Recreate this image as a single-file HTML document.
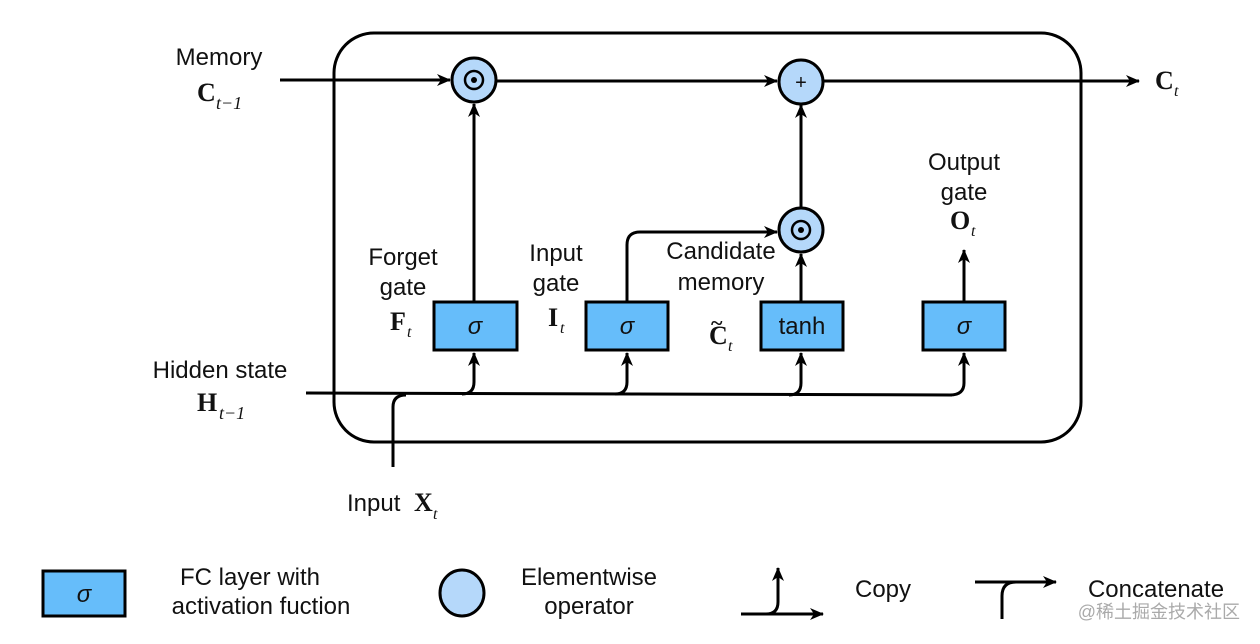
<!DOCTYPE html>
<html><head><meta charset="utf-8"><style>
html,body{margin:0;padding:0;background:#fff;}
svg{display:block;}
text{font-family:"Liberation Sans",sans-serif;fill:#111;}
.s{font-family:"Liberation Serif",serif;font-weight:bold;}
.i{font-family:"Liberation Serif",serif;font-style:italic;font-weight:normal;}
.g{font-family:"Liberation Sans",sans-serif;font-style:italic;}
</style></head><body>
<svg width="1260" height="644" viewBox="0 0 1260 644" xmlns="http://www.w3.org/2000/svg">
<defs>
<marker id="a" viewBox="0 0 14 12" refX="13" refY="6" markerWidth="14" markerHeight="12" markerUnits="userSpaceOnUse" orient="auto">
<path d="M0,0 L14,6 L0,12 L4,6 Z" fill="#000"/></marker>
</defs>
<g fill="none" stroke="#000" stroke-width="3">
<rect x="334" y="33" width="747" height="409" rx="40"/>
<path d="M280,80 H450" marker-end="url(#a)"/>
<path d="M497,81 H777" marker-end="url(#a)"/>
<path d="M824,81 H1139" marker-end="url(#a)"/>
<path d="M474,302 V104" marker-end="url(#a)"/>
<path d="M627,302 V245 Q627,232 640,232 H777" marker-end="url(#a)"/>
<path d="M801,302 V254" marker-end="url(#a)"/>
<path d="M801,207 V105" marker-end="url(#a)"/>
<path d="M964,302 V250" marker-end="url(#a)"/>
<path d="M306,393 L952,395"/>
<path d="M462,394 Q474,394 474,382 V353" marker-end="url(#a)"/>
<path d="M615,394 Q627,394 627,382 V353" marker-end="url(#a)"/>
<path d="M789,395 Q801,395 801,383 V353" marker-end="url(#a)"/>
<path d="M950,395 Q964,395 964,383 V353" marker-end="url(#a)"/>
<path d="M393,467 V407 Q393,395 406,395"/>
</g>
<g stroke="#000" stroke-width="3" fill="#b5d8fa">
<circle cx="474" cy="80" r="22"/>
<circle cx="801" cy="82" r="22"/>
<circle cx="801" cy="230" r="22"/>
<ellipse cx="462" cy="593" rx="22" ry="23"/>
</g>
<g fill="none" stroke="#000" stroke-width="2.5">
<circle cx="474" cy="80" r="9"/><circle cx="801" cy="230" r="9"/>
</g>
<circle cx="474" cy="80" r="3" fill="#000"/><circle cx="801" cy="230" r="3" fill="#000"/>
<text x="801" y="89" text-anchor="middle" font-size="20">+</text>
<g stroke="#000" stroke-width="3" fill="#66bdfa">
<rect x="434" y="302" width="83" height="48"/>
<rect x="586" y="302" width="82" height="48"/>
<rect x="761" y="302" width="82" height="48"/>
<rect x="923" y="302" width="82" height="48"/>
<rect x="43" y="571" width="82" height="45"/>
</g>
<g font-size="24" text-anchor="middle">
<text class="g" x="475" y="334">σ</text>
<text class="g" x="627" y="334">σ</text>
<text x="802" y="334">tanh</text>
<text class="g" x="964" y="334">σ</text>
<text class="g" x="84" y="602">σ</text>
</g>
<g font-size="24" text-anchor="middle">
<text x="219" y="65">Memory</text>
<text x="403" y="265">Forget</text><text x="403" y="295">gate</text>
<text x="556" y="261">Input</text><text x="556" y="291">gate</text>
<text x="721" y="259">Candidate</text><text x="721" y="290">memory</text>
<text x="964" y="170">Output</text><text x="964" y="200">gate</text>
<text x="220" y="378">Hidden state</text>
<text x="250" y="585">FC layer with</text><text x="261" y="614">activation fuction</text>
<text x="589" y="585">Elementwise</text><text x="589" y="614">operator</text>
<text x="883" y="597">Copy</text>
<text x="1156" y="597">Concatenate</text>
</g>
<text x="347" y="511" font-size="24">Input</text>
<g font-size="26">
<text class="s" x="197" y="101">C</text><text class="i" x="216" y="109" font-size="18">t−1</text>
<text class="s" x="1155" y="89">C</text><text class="i" x="1174" y="96" font-size="16">t</text>
<text class="s" x="390" y="330">F</text><text class="i" x="407" y="337" font-size="16">t</text>
<text class="s" x="548" y="326">I</text><text class="i" x="560" y="333" font-size="16">t</text>
<text class="s" x="709" y="344">C</text><text class="i" x="728" y="351" font-size="16">t</text>
<text class="s" x="711" y="330" font-size="22">~</text>
<text class="s" x="950" y="229">O</text><text class="i" x="971" y="236" font-size="16">t</text>
<text class="s" x="197" y="411">H</text><text class="i" x="219" y="419" font-size="18">t−1</text>
<text class="s" x="414" y="511">X</text><text class="i" x="433" y="519" font-size="16">t</text>
</g>
<g fill="none" stroke="#000" stroke-width="3">
<path d="M741,614 H823" marker-end="url(#a)"/>
<path d="M766,614 Q778,614 778,602 V568" marker-end="url(#a)"/>
<path d="M975,582 H1056" marker-end="url(#a)"/>
<path d="M1002,619 V596 Q1002,582 1016,582"/>
</g>
<text x="1240" y="618" font-size="18" text-anchor="end" style="fill:#aaa;font-family:'Liberation Sans','Noto Sans CJK SC',sans-serif">@稀土掘金技术社区</text>
</svg>
</body></html>
